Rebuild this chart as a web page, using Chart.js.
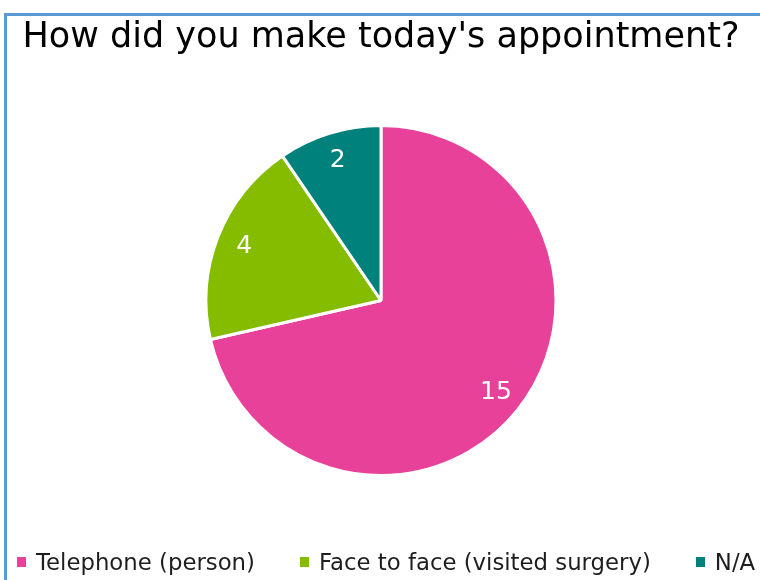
<!DOCTYPE html>
<html>
<head>
<meta charset="utf-8">
<script src="https://cdn.jsdelivr.net/npm/chart.js@4/dist/chart.umd.min.js"></script>
<style>
  html, body { margin: 0; padding: 0; background: #fff; overflow: hidden; width: 760px; height: 580px; }
  #box {
    position: absolute; left: 4px; top: 13px;
    width: 780px; height: 600px;
    border-top: 3px solid #5B9BD5; border-left: 3px solid #5B9BD5;
    background: #fff;
  }
  #wrap { position: absolute; left: 0; top: 0; width: 748px; height: 568px; }
  #legend {
    position: absolute; left: 10px; top: 534px;
    display: flex; gap: 45px; white-space: nowrap;
    font-family: 'DejaVu Sans', sans-serif; font-size: 22.8px; line-height: 24px; color: #1e1e1e;
  }
  #legend .item { display: flex; align-items: center; }
  #legend .swatch { width: 9px; height: 10px; margin-right: 10px; }
</style>
</head>
<body>
<div id="box">
  <div id="wrap"><canvas id="pie"></canvas></div>
  <div id="legend"></div>
</div>
<script>
// survey answers
const categories = ["Telephone (person)", "Face to face (visited surgery)", "N/A"];
const counts = [15, 4, 2];
const sliceColors = ["#E8419A", "#85BC00", "#00817B"];

const fontFamily = "'DejaVu Sans', sans-serif";

// white value labels inside each slice
const sliceLabels = {
    id: "sliceLabels",
    afterDatasetsDraw(chart) {
        const ctx = chart.ctx;
        const meta = chart.getDatasetMeta(0);
        ctx.save();
        ctx.fillStyle = "#fff";
        ctx.font = "25px " + fontFamily;
        ctx.textAlign = "center";
        ctx.textBaseline = "middle";
        meta.data.forEach((arc, i) => {
            const p = arc.getProps(["x", "y", "startAngle", "endAngle", "outerRadius"], true);
            const mid = (p.startAngle + p.endAngle) / 2;
            const r = p.outerRadius * 0.84;
            ctx.fillText(String(counts[i]), p.x + Math.cos(mid) * r, p.y + Math.sin(mid) * r);
        });
        ctx.restore();
    }
};

new Chart(document.getElementById("pie").getContext("2d"), {
    type: "pie",
    data: {
        labels: categories,
        datasets: [{
            data: counts,
            backgroundColor: sliceColors,
            borderColor: "#fff",
            borderWidth: 3
        }]
    },
    options: {
        responsive: true,
        maintainAspectRatio: false,
        animation: false,
        radius: 175,
        layout: { padding: { bottom: 77 } },
        plugins: {
            title: {
                display: true,
                text: "How did you make today's appointment?",
                color: "#000",
                font: { family: fontFamily, size: 35, weight: "normal" },
                padding: { top: 1, bottom: 35 }
            },
            legend: { display: false },
            tooltip: { enabled: false }
        }
    },
    plugins: [sliceLabels]
});

// legend row along the bottom, built from the same arrays
const legend = document.getElementById("legend");
categories.forEach((name, i) => {
    const item = document.createElement("span");
    item.className = "item";
    const sw = document.createElement("span");
    sw.className = "swatch";
    sw.style.background = sliceColors[i];
    item.appendChild(sw);
    item.appendChild(document.createTextNode(name));
    legend.appendChild(item);
});
</script>
</body>
</html>
